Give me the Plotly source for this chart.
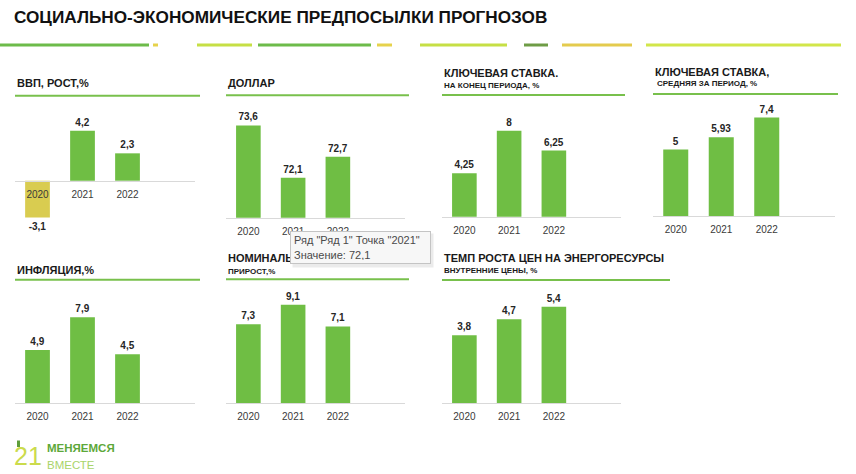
import plotly.graph_objects as go

# ---------------- data ----------------
years = ["2020", "2021", "2022"]
gdp_growth = [-3.1, 4.2, 2.3]
usd_rate = [73.6, 72.1, 72.7]
key_rate_end = [4.25, 8, 6.25]
key_rate_avg = [5, 5.93, 7.4]
inflation = [4.9, 7.9, 4.5]
wage_growth = [7.3, 9.1, 7.1]
energy_prices = [3.8, 4.7, 5.4]

main_title = "СОЦИАЛЬНО-ЭКОНОМИЧЕСКИЕ ПРЕДПОСЫЛКИ ПРОГНОЗОВ"
panel_titles = ["ВВП, РОСТ,%", "ДОЛЛАР", "КЛЮЧЕВАЯ СТАВКА.", "КЛЮЧЕВАЯ СТАВКА,",
                "ИНФЛЯЦИЯ,%", "НОМИНАЛЬНАЯ ЗАРПЛАТА,", "ТЕМП РОСТА ЦЕН НА ЭНЕРГОРЕСУРСЫ"]
panel_subtitles = ["", "", "НА КОНЕЦ ПЕРИОДА, %", "СРЕДНЯЯ ЗА ПЕРИОД, %",
                   "", "ПРИРОСТ,%", "ВНУТРЕННИЕ ЦЕНЫ, %"]
series = [gdp_growth, usd_rate, key_rate_end, key_rate_avg, inflation, wage_growth, energy_prices]
tooltip_lines = ['Ряд "Ряд 1" Точка "2021"', "Значение: 72,1"]
logo_texts = ["21", "МЕНЯЕМСЯ", "ВМЕСТЕ"]

# ---------------- layout geometry (pixels) ----------------
W, H = 856, 474
FONT = "Liberation Sans, Arial, sans-serif"
GREEN = "#6FBE44"
NEG = "#D9CC50"
LINE_GREEN = "#78C04C"


def fx(p):
    return p / W


def fy(p):
    return 1 - p / H


# x0, x1, baseline, px-per-unit, value at baseline, top, bottom, title_y, sub_y, sub_x, line_y, line_x1
geo = [
    (15, 195, 180.7, 11.9, 0.0, 100, 245, 83, None, None, 95.7, 200),
    (226, 405, 217.7, 34.8, 70.95, 100, 217.7, 82.7, None, None, 95.3, 409),
    (442, 621, 216.7, 11.3, 0.4, 100, 216.7, 72.7, 85, 442, 95, 625),
    (653, 835, 216.0, 13.3, 0.0, 100, 216.0, 71.7, 83.3, 655, 94, 838),
    (15, 195, 403.3, 10.9, 0.0, 285, 403.3, 270, None, None, 279.7, 200),
    (226, 405, 403.3, 10.82, 0.0, 285, 403.3, 258.3, 271.7, 226, 279.3, 409),
    (442, 621, 403.3, 17.9, 0.0, 285, 403.3, 258.3, 270.7, 442, 280, 670),
]

fig = go.Figure()
layout = {}
annotations = []
shapes = []


def fmt(v):
    return f"{v:g}".replace(".", ",")


for i, (vals, g) in enumerate(zip(series, geo), start=1):
    x0, x1, base, ppu, bval, top, bot, ty, sy, sx, ly, lx1 = g
    xa = "x" if i == 1 else f"x{i}"
    ya = "y" if i == 1 else f"y{i}"
    colors = [NEG if v < 0 else GREEN for v in vals]
    fig.add_trace(go.Bar(
        x=years, y=vals, xaxis=xa, yaxis=ya,
        marker=dict(color=colors, line=dict(width=0)),
        width=0.55,
        text=[fmt(v) for v in vals], textposition="outside",
        constraintext="none",
        textfont=dict(family=FONT, size=10, color="#262626", weight=700),
        hoverinfo="skip", showlegend=False,
    ))
    yr = [bval + (base - bot) / ppu, bval + (base - top) / ppu]
    layout["xaxis" if i == 1 else f"xaxis{i}"] = dict(
        domain=[fx(x0), fx(x1)], anchor="free", position=fy(base),
        type="category", range=[-0.5, 3.5],
        showline=True, linecolor="#D9D9D9", linewidth=1,
        ticks="outside", ticklen=4, tickcolor="rgba(0,0,0,0)",
        tickfont=dict(family=FONT, size=10, color="#3A3A3A"),
        showgrid=False, zeroline=False, fixedrange=True,
    )
    layout["yaxis" if i == 1 else f"yaxis{i}"] = dict(
        domain=[fy(bot), fy(top)], anchor=xa, range=yr,
        visible=False, showgrid=False, zeroline=False, fixedrange=True,
    )
    # panel title
    annotations.append(dict(
        text=panel_titles[i - 1], x=fx(x0), y=fy(ty), xref="paper", yref="paper",
        xanchor="left", yanchor="middle", showarrow=False,
        font=dict(family=FONT, size=11, color="#1A1A1A", weight=700),
    ))
    if panel_subtitles[i - 1]:
        annotations.append(dict(
            text=panel_subtitles[i - 1], x=fx(sx), y=fy(sy), xref="paper", yref="paper",
            xanchor="left", yanchor="middle", showarrow=False,
            font=dict(family=FONT, size=8, color="#1A1A1A", weight=700),
        ))
    shapes.append(dict(type="line", xref="paper", yref="paper",
                       x0=fx(x0), x1=fx(lx1), y0=fy(ly), y1=fy(ly),
                       line=dict(color=LINE_GREEN, width=2)))

# main title
annotations.append(dict(
    text=main_title, x=fx(12), y=fy(17), xref="paper", yref="paper",
    xanchor="left", yanchor="middle", showarrow=False,
    font=dict(family=FONT, size=17.2, color="#111111", weight=700),
))

# decorative top stripe segments
segments = [
    (0, 149, "#6DBB4A"), (153, 158, "#E6D24C"), (197, 252, "#C6DF45"),
    (258, 371, "#6DBB4A"), (377, 392, "#E6D24C"), (420, 507, "#C6DF45"),
    (524, 548, "#6E9C46"), (562, 632, "#E4CB4E"), (646, 841, "#D2E64A"),
]
for a, b, c in segments:
    shapes.append(dict(type="line", xref="paper", yref="paper",
                       x0=fx(a), x1=fx(b), y0=fy(45), y1=fy(45),
                       line=dict(color=c, width=3)))

# tooltip (shadow + box)
annotations.append(dict(
    text=" ", x=fx(292), y=fy(233), xref="paper", yref="paper",
    xanchor="left", yanchor="top", showarrow=False, width=134, height=27,
    bgcolor="rgba(0,0,0,0.08)", borderpad=3,
))
annotations.append(dict(
    text="<br>".join(tooltip_lines), x=fx(290), y=fy(231), xref="paper", yref="paper",
    xanchor="left", yanchor="top", showarrow=False, width=133, height=25,
    align="left", valign="middle",
    bgcolor="#F7F7F7", bordercolor="#C4C4C4", borderwidth=1, borderpad=3,
    font=dict(family=FONT, size=11, color="#4A4A4A"),
))

# logo
shapes.append(dict(type="rect", xref="paper", yref="paper",
                   x0=fx(17), x1=fx(20), y0=fy(447), y1=fy(440.5),
                   fillcolor="#5E9E3A", line=dict(width=0)))
annotations.append(dict(
    text=logo_texts[0], x=fx(44), y=fy(456), xref="paper", yref="paper",
    xanchor="right", yanchor="middle", showarrow=False,
    font=dict(family=FONT, size=25, color="#CBDB4C"),
))
annotations.append(dict(
    text=logo_texts[1], x=fx(45), y=fy(447.5), xref="paper", yref="paper",
    xanchor="left", yanchor="middle", showarrow=False,
    font=dict(family=FONT, size=11.5, color="#5DA83A", weight=700),
))
annotations.append(dict(
    text=logo_texts[2], x=fx(45), y=fy(465), xref="paper", yref="paper",
    xanchor="left", yanchor="middle", showarrow=False,
    font=dict(family=FONT, size=11.5, color="#A9D46A"),
))

fig.update_layout(
    width=W, height=H, margin=dict(l=0, r=0, t=0, b=0),
    paper_bgcolor="white", plot_bgcolor="rgba(0,0,0,0)",
    bargap=0.45, showlegend=False,
    annotations=annotations, shapes=shapes,
    **layout,
)
fig.write_html("out.html", config={"displayModeBar": False})
